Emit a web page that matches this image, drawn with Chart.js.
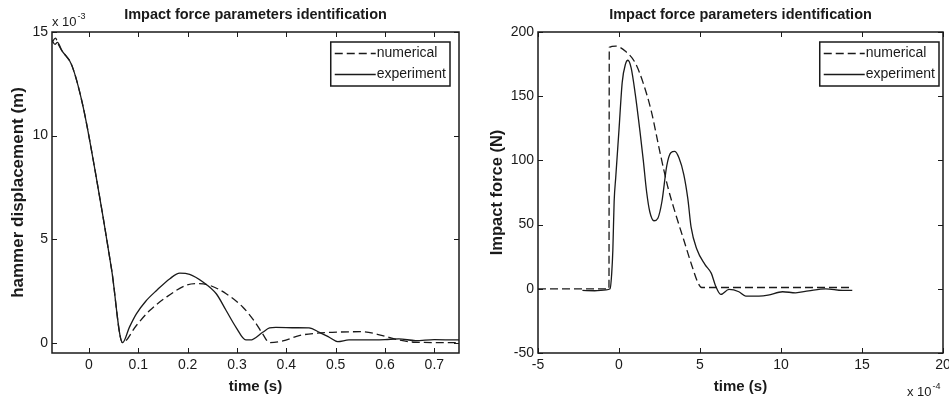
<!DOCTYPE html>
<html>
<head>
<meta charset="utf-8">
<script src="https://cdn.jsdelivr.net/npm/chart.js@4.4.0/dist/chart.umd.min.js"></script>
<style>
    body { margin: 0; background: #fff; }
    #wrap { position: relative; width: 949px; height: 398px; overflow: hidden; }
    .pane { position: absolute; top: 0; }
</style>
</head>
<body>
<div id="wrap">
    <div class="pane" style="left:0"><canvas id="dispChart" width="475" height="398"></canvas></div>
    <div class="pane" style="left:475px"><canvas id="forceChart" width="474" height="398"></canvas></div>
</div>
<script>
// Left panel: hammer displacement (x 10^-3 m) vs time (s)
const dispTimeNum = [-0.075, -0.068, -0.062, -0.055, -0.035, -0.012, 0.012, 0.046, 0.068, 0.096, 0.123, 0.157, 0.197,
    0.217, 0.244, 0.278, 0.312, 0.339, 0.352, 0.366, 0.393, 0.426, 0.46, 0.493, 0.554, 0.595, 0.628, 0.662, 0.75];
const dispNum = [14.5, 14.7, 14.4, 14.1, 13.4, 11.4, 8.35, 3.5, 0.0, 0.83, 1.55, 2.2, 2.77,
    2.85, 2.77, 2.36, 1.71, 0.91, 0.42, 0.0, 0.08, 0.34, 0.45, 0.5, 0.53, 0.34, 0.13, 0.02, 0.0];
const dispTimeExp = [-0.075, -0.069, -0.064, -0.055, -0.035, -0.012, 0.012, 0.046, 0.068, 0.082, 0.096, 0.115,
    0.137, 0.164, 0.184, 0.204, 0.231, 0.258, 0.278, 0.298, 0.318, 0.327, 0.352, 0.366, 0.379, 0.42, 0.446, 0.467,
    0.487, 0.504, 0.527, 0.561, 0.6, 0.628, 0.662, 0.7, 0.75];
const dispExp = [14.6, 14.4, 14.5, 14.1, 13.4, 11.4, 8.35, 3.5, 0.0, 0.75, 1.39, 2.0,
    2.52, 3.09, 3.36, 3.3, 2.93, 2.36, 1.55, 0.74, 0.13, 0.13, 0.5, 0.71, 0.74, 0.72, 0.71, 0.5,
    0.26, 0.05, 0.13, 0.13, 0.15, 0.18, 0.1, 0.15, 0.13];
const dispXTicks = [0, 0.1, 0.2, 0.3, 0.4, 0.5, 0.6, 0.7];
const dispYTicks = [0, 5, 10, 15];

// Right panel: impact force (N) vs time (x 10^-4 s)
const forceTimeNum = [-5, -0.62, -0.6, -0.2, 0.4, 1.0, 1.5, 2.0, 2.5, 3.0, 3.5, 4.0, 4.5, 4.9, 5.1, 14.4];
const forceNum = [0, 0, 188, 189, 185, 176, 160, 138, 108, 80, 58, 38, 18, 4, 1, 1];
const forceTimeExp = [-2.26, -1.5, -0.8, -0.55, -0.45, -0.38, -0.3, -0.2, 0, 0.2, 0.4, 0.55, 0.75, 1.0, 1.3, 1.5,
    1.7, 1.9, 2.16, 2.4, 2.65, 2.95, 3.2, 3.45, 3.7, 4.0, 4.25, 4.45, 4.8, 5.3, 5.7, 5.97, 6.28, 6.79, 7.4, 7.82,
    8.64, 9.2, 10.1, 10.9, 11.7, 12.76, 13.8, 14.4];
const forceExp = [-1.3, -1.5, -0.8, 0, 12, 30, 68, 87, 124, 161, 175, 178, 172, 152, 122, 100,
    76, 60, 53, 55, 68, 96, 106, 107, 102, 89, 70, 48, 31, 19, 12, 2, -4.4, -0.5, -2.3, -5.7,
    -5.7, -5, -2.3, -3.1, -1.6, 0, -1.3, -1.3];
const forceXTicks = [-5, 0, 5, 10, 15, 20];
const forceYTicks = [-50, 0, 50, 100, 150, 200];

const FONT = "'Liberation Sans', Arial, Helvetica, sans-serif";
const INK = '#1a1a1a';

const pts = (xs, ys) => xs.map((x, i) => ({ x: x, y: ys[i] }));

// MATLAB-like frame: box, inward ticks, exponent note and boxed legend
const matlabFrame = {
    id: 'matlabFrame',
    afterDatasetsDraw(chart, args, opts) {
        const ctx = chart.ctx;
        const a = chart.chartArea;
        const xs = chart.scales.x, ys = chart.scales.y;
        ctx.save();
        ctx.strokeStyle = INK;
        ctx.lineWidth = 1;
        ctx.beginPath();
        xs.ticks.forEach(t => {
            const px = Math.round(xs.getPixelForValue(t.value)) + 0.5;
            ctx.moveTo(px, a.bottom); ctx.lineTo(px, a.bottom - 5);
            ctx.moveTo(px, a.top); ctx.lineTo(px, a.top + 5);
        });
        ys.ticks.forEach(t => {
            const py = Math.round(ys.getPixelForValue(t.value)) + 0.5;
            ctx.moveTo(a.left, py); ctx.lineTo(a.left + 5, py);
            ctx.moveTo(a.right, py); ctx.lineTo(a.right - 5, py);
        });
        ctx.stroke();
        ctx.lineWidth = 1.5;
        ctx.strokeRect(a.left, a.top, a.right - a.left, a.bottom - a.top);

        // exponent note
        ctx.fillStyle = INK;
        ctx.textBaseline = 'alphabetic';
        ctx.textAlign = 'left';
        ctx.font = '13px ' + FONT;
        ctx.fillText('x 10', opts.expX, opts.expY);
        const w = ctx.measureText('x 10').width;
        ctx.font = '9px ' + FONT;
        ctx.fillText(opts.expSup, opts.expX + w + 1, opts.expY - 7);

        // legend box
        ctx.font = '14px ' + FONT;
        const sets = chart.data.datasets;
        const textW = Math.max(...sets.map(d => ctx.measureText(d.label).width));
        const sample = 41;
        const boxW = 4 + sample + 1 + textW + 4;
        const boxH = 44;
        const bx = a.right - opts.legendRight - boxW;
        const by = a.top + 10;
        ctx.fillStyle = '#fff';
        ctx.fillRect(bx, by, boxW, boxH);
        ctx.lineWidth = 1.5;
        ctx.strokeStyle = INK;
        ctx.strokeRect(bx, by, boxW, boxH);
        ctx.textBaseline = 'middle';
        sets.forEach((d, i) => {
            const yy = by + 11.5 + i * 21;
            ctx.setLineDash(d.borderDash || []);
            ctx.lineWidth = d.borderWidth;
            ctx.beginPath();
            ctx.moveTo(bx + 4, yy);
            ctx.lineTo(bx + 4 + sample, yy);
            ctx.stroke();
            ctx.setLineDash([]);
            ctx.fillStyle = INK;
            ctx.fillText(d.label, bx + 4 + sample + 1, yy);
        });
        ctx.restore();
    }
};

function makeChart(id, cfg) {
    const ctx = document.getElementById(id).getContext('2d');
    return new Chart(ctx, {
        type: 'scatter',
        data: {
            datasets: [
                {
                    label: 'numerical',
                    data: cfg.numerical,
                    showLine: true,
                    borderColor: INK,
                    borderWidth: 1.3,
                    borderDash: [8, 4],
                    pointRadius: 0,
                    cubicInterpolationMode: 'monotone'
                },
                {
                    label: 'experiment',
                    data: cfg.experiment,
                    showLine: true,
                    borderColor: INK,
                    borderWidth: 1.3,
                    pointRadius: 0,
                    cubicInterpolationMode: 'monotone'
                }
            ]
        },
        options: {
            responsive: false,
            animation: false,
            layout: { padding: { left: 0, right: cfg.padRight, top: 0, bottom: 0 } },
            plugins: {
                legend: { display: false },
                tooltip: { enabled: false },
                title: {
                    display: true,
                    fullSize: false,
                    text: 'Impact force parameters identification',
                    color: INK,
                    font: { family: FONT, size: 14.5, weight: 'bold' },
                    padding: { top: 6.3, bottom: 8.3 }
                },
                matlabFrame: cfg.frame
            },
            scales: {
                x: {
                    type: 'linear',
                    min: cfg.xRange[0],
                    max: cfg.xRange[1],
                    afterBuildTicks: s => { s.ticks = cfg.xTicks.map(v => ({ value: v })); },
                    afterFit: s => { s.height = 45; s.paddingLeft = 0; s.paddingRight = 0; },
                    grid: { display: false, drawTicks: false },
                    border: { display: false },
                    ticks: { color: INK, font: { family: FONT, size: 14 }, padding: 4, maxRotation: 0, autoSkip: false },
                    title: {
                        display: true,
                        text: 'time (s)',
                        color: INK,
                        font: { family: FONT, size: 15, weight: 'bold' },
                        padding: { top: 0, bottom: 2.3 }
                    }
                },
                y: {
                    type: 'linear',
                    min: cfg.yRange[0],
                    max: cfg.yRange[1],
                    afterBuildTicks: s => { s.ticks = cfg.yTicks.map(v => ({ value: v })); },
                    afterFit: s => { s.width = cfg.yWidth; s.paddingTop = 0; s.paddingBottom = 0; },
                    grid: { display: false, drawTicks: false },
                    border: { display: false },
                    ticks: { color: INK, font: { family: FONT, size: 14 }, padding: 4 },
                    title: {
                        display: true,
                        text: cfg.yTitle,
                        color: INK,
                        font: { family: FONT, size: cfg.yTitleSize, weight: 'bold' },
                        padding: { top: cfg.yTitlePad, bottom: 0 }
                    }
                }
            }
        },
        plugins: [matlabFrame]
    });
}

makeChart('dispChart', {
    numerical: pts(dispTimeNum, dispNum),
    experiment: pts(dispTimeExp, dispExp),
    xRange: [-0.075, 0.75],
    yRange: [-0.5, 15],
    xTicks: dispXTicks,
    yTicks: dispYTicks,
    yTitle: 'hammer displacement (m)',
    yTitleSize: 17,
    yWidth: 52,
    yTitlePad: 8,
    padRight: 16,
    frame: { expX: 52, expY: 26, expSup: '-3', legendRight: 9 }
});

makeChart('forceChart', {
    numerical: pts(forceTimeNum, forceNum),
    experiment: pts(forceTimeExp, forceExp),
    xRange: [-5, 20],
    yRange: [-50, 200],
    xTicks: forceXTicks,
    yTicks: forceYTicks,
    yTitle: 'Impact force (N)',
    yTitleSize: 16.5,
    yWidth: 63,
    yTitlePad: 12.6,
    padRight: 6,
    frame: { expX: 432, expY: 396, expSup: '-4', legendRight: 4 }
});
</script>
</body>
</html>
